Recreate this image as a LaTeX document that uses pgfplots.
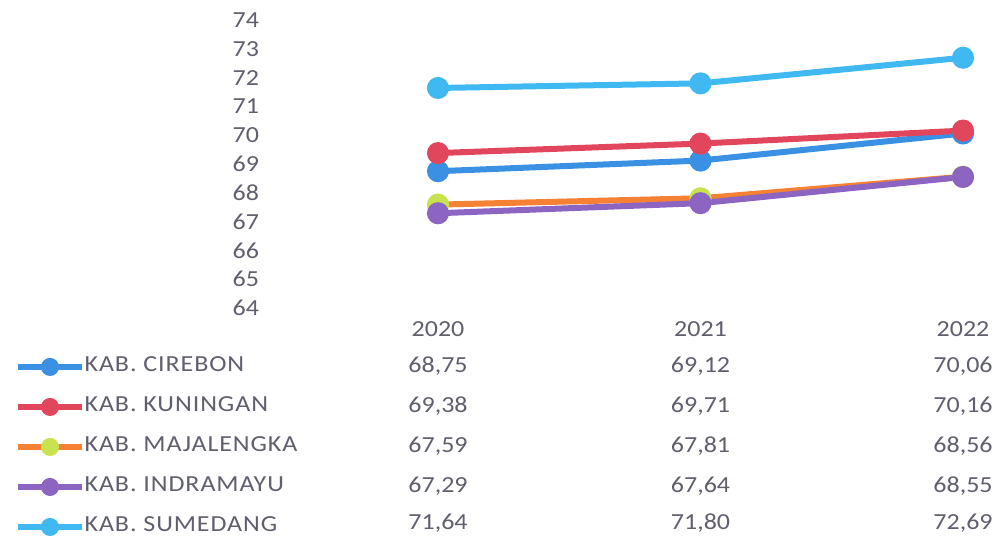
\documentclass[border=0pt]{standalone}
\usepackage{pgfplots}
\pgfplotsset{compat=1.18}
\usepackage{fontspec}
\setmainfont[FakeStretch=1.13]{Carlito}

\definecolor{txt}{RGB}{95,95,110}
\definecolor{cCirebon}{RGB}{58,145,228}
\definecolor{cKuningan}{RGB}{226,70,92}
\definecolor{cMaja}{RGB}{246,128,52}
\definecolor{cMajaMark}{RGB}{200,226,80}
\definecolor{cIndra}{RGB}{140,100,194}
\definecolor{cSume}{RGB}{64,184,242}

\begin{document}
\begin{tikzpicture}[font=\fontsize{11.5}{13}\selectfont]
\path[use as bounding box] (0,0) rectangle (502pt,269pt);
\begin{axis}[
  at={(219pt,115pt)}, anchor=south west,
  scale only axis, width=262.5pt, height=144pt,
  xmin=2020, xmax=2022, ymin=64, ymax=74,
  clip=false,
  axis line style={draw=none},
  major tick length=0pt,
  xtick={2020,2021,2022},
  xticklabels={2020,2021,2022},
  ytick={64,65,...,74},
  tick label style={text=txt},
  /pgf/number format/assume math mode=true,
  xticklabel style={yshift=-3pt},
  yticklabel style={anchor=east, xshift=-86pt},
  every axis plot/.append style={line width=3pt, mark=*, mark size=4pt},
  legend style={at={(-0.8057,-0.172)}, anchor=north west, draw=none, fill=none,
    inner sep=0pt, row sep=11pt, text=txt,
    nodes={inner sep=0pt, text height=7pt, text depth=2pt, xshift=2pt,
      font=\fontsize{11.5}{13}\selectfont\addfontfeatures{LetterSpace=4}}},
  legend cell align=left,
  legend image code/.code={\draw[mark repeat=2,mark phase=2,#1,line width=2.6pt,mark size=3.2pt] plot coordinates {(0pt,0pt) (16pt,0pt) (32pt,0pt)};},
]
\addplot[cCirebon, mark options={fill=cCirebon, draw=cCirebon}] coordinates {(2020,68.75) (2021,69.12) (2022,70.06)};
\addlegendentry{KAB. CIREBON}
\addplot[cKuningan, mark options={fill=cKuningan, draw=cKuningan}] coordinates {(2020,69.38) (2021,69.71) (2022,70.16)};
\addlegendentry{KAB. KUNINGAN}
\addplot[cMaja, mark options={fill=cMajaMark, draw=cMajaMark}] coordinates {(2020,67.59) (2021,67.81) (2022,68.56)};
\addlegendentry{KAB. MAJALENGKA}
\addplot[cIndra, mark options={fill=cIndra, draw=cIndra}] coordinates {(2020,67.29) (2021,67.64) (2022,68.55)};
\addlegendentry{KAB. INDRAMAYU}
\addplot[cSume, mark options={fill=cSume, draw=cSume}] coordinates {(2020,71.64) (2021,71.80) (2022,72.69)};
\addlegendentry{KAB. SUMEDANG}

% data table values
\node[text=txt] at (axis cs:2020,61.99) {68,75};
\node[text=txt] at (axis cs:2021,61.99) {69,12};
\node[text=txt] at (axis cs:2022,61.99) {70,06};
\node[text=txt] at (axis cs:2020,60.60) {69,38};
\node[text=txt] at (axis cs:2021,60.60) {69,71};
\node[text=txt] at (axis cs:2022,60.60) {70,16};
\node[text=txt] at (axis cs:2020,59.21) {67,59};
\node[text=txt] at (axis cs:2021,59.21) {67,81};
\node[text=txt] at (axis cs:2022,59.21) {68,56};
\node[text=txt] at (axis cs:2020,57.82) {67,29};
\node[text=txt] at (axis cs:2021,57.82) {67,64};
\node[text=txt] at (axis cs:2022,57.82) {68,55};
\node[text=txt] at (axis cs:2020,56.53) {71,64};
\node[text=txt] at (axis cs:2021,56.53) {71,80};
\node[text=txt] at (axis cs:2022,56.53) {72,69};
\end{axis}
\end{tikzpicture}
\end{document}
